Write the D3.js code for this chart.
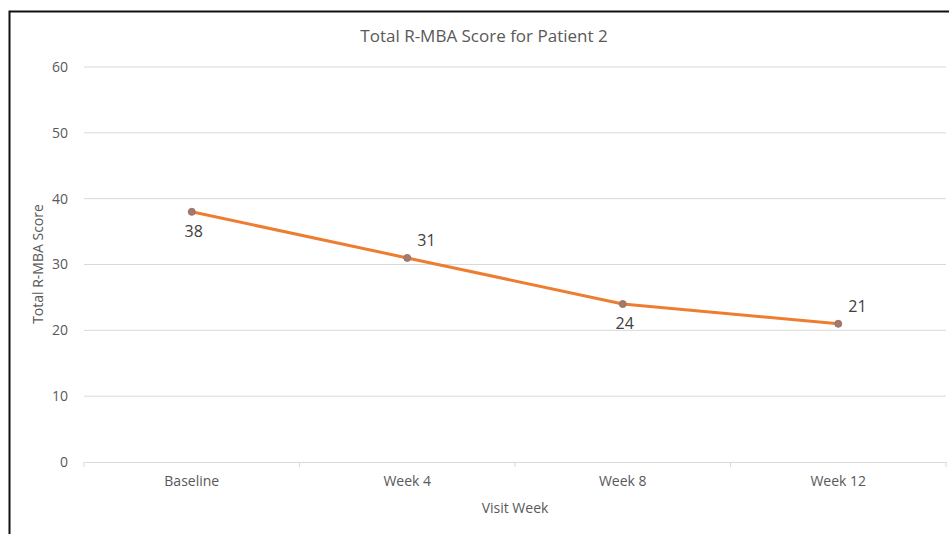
<!DOCTYPE html>
<html>
<head>
<meta charset="utf-8">
<script src="https://cdn.jsdelivr.net/npm/d3@7"></script>
<style>
  body { margin: 0; background: #fff; }
  svg { display: block; }
  svg text { font-family: "Open Sans", sans-serif; }
</style>
</head>
<body>
<div id="chart"></div>
<script>
// chart data
const visits = ["Baseline", "Week 4", "Week 8", "Week 12"];
const scores = [38, 31, 24, 21];
const yTicks = [0, 10, 20, 30, 40, 50, 60];
// label above (-1) or below (1) the point
const labelSide = [1, -1, 1, -1];

const W = 949, H = 534;
const margin = {top: 67, right: 3, bottom: 72, left: 84};

const svg = d3.select("#chart")
    .append("svg")
    .attr("width", W)
    .attr("height", H);

// frame of the screenshot
svg.append("path")
    .attr("d", `M9.5,${H} V11.5 H${W}`)
    .attr("fill", "none")
    .attr("stroke", "#111")
    .attr("stroke-width", 2);

const x = d3.scaleBand()
    .domain(visits)
    .range([margin.left, W - margin.right]);

const y = d3.scaleLinear()
    .domain([0, 60])
    .range([H - margin.bottom, margin.top]);

// gridlines
svg.append("g")
    .selectAll("line")
    .data(yTicks.filter(d => d > 0))
    .enter()
    .append("line")
    .attr("x1", margin.left)
    .attr("x2", W - margin.right)
    .attr("y1", d => y(d))
    .attr("y2", d => y(d))
    .attr("stroke", "#d9d9d9")
    .attr("stroke-width", 1);

// y axis (labels only)
const yAxis = svg.append("g")
    .attr("transform", `translate(${margin.left},0)`)
    .call(d3.axisLeft(y).tickValues(yTicks).tickSize(0).tickPadding(16));
yAxis.attr("font-family", null).attr("font-size", null);
yAxis.select(".domain").remove();
yAxis.selectAll("text")
    .attr("fill", "#595959")
    .style("font-size", "14px");

// x axis with ticks at band edges
const xAxis = svg.append("g")
    .attr("transform", `translate(0,${y(0)})`)
    .call(d3.axisBottom(x).tickSize(0).tickPadding(14));
xAxis.attr("font-family", null).attr("font-size", null);
xAxis.select(".domain")
    .attr("stroke", "#d9d9d9");
xAxis.selectAll("text")
    .attr("fill", "#595959")
    .style("font-size", "14px");
svg.append("g")
    .selectAll("line")
    .data(visits.concat(["end"]))
    .enter()
    .append("line")
    .attr("x1", (d, i) => i < visits.length ? x(d) : x.range()[1])
    .attr("x2", (d, i) => i < visits.length ? x(d) : x.range()[1])
    .attr("y1", y(0))
    .attr("y2", y(0) + 5)
    .attr("stroke", "#d9d9d9");

// line
const line = d3.line()
    .x((d, i) => x(visits[i]) + x.bandwidth() / 2)
    .y(d => y(d));

svg.append("path")
    .datum(scores)
    .attr("d", line)
    .attr("fill", "none")
    .attr("stroke", "#ed7d31")
    .attr("stroke-width", 3)
    .attr("stroke-linejoin", "round");

// markers
svg.append("g")
    .selectAll("circle")
    .data(scores)
    .enter()
    .append("circle")
    .attr("cx", (d, i) => x(visits[i]) + x.bandwidth() / 2)
    .attr("cy", d => y(d))
    .attr("r", 3.5)
    .attr("fill", "#a5786b")
    .attr("stroke", "#9c7367")
    .attr("stroke-width", 1);

// data labels
svg.append("g")
    .selectAll("text")
    .data(scores)
    .enter()
    .append("text")
    .attr("x", (d, i) => x(visits[i]) + x.bandwidth() / 2 + (labelSide[i] < 0 ? 10 : 2))
    .attr("y", (d, i) => y(d) + (labelSide[i] > 0 ? 25 : -12))
    .attr("text-anchor", (d, i) => labelSide[i] > 0 ? "middle" : "start")
    .attr("fill", "#404040")
    .style("font-size", "16px")
    .text(d => d);

// title
svg.append("text")
    .attr("x", 484)
    .attr("y", 42)
    .attr("text-anchor", "middle")
    .attr("fill", "#595959")
    .style("font-size", "17px")
    .text("Total R-MBA Score for Patient 2");

// axis titles
svg.append("text")
    .attr("x", 515)
    .attr("y", 513)
    .attr("text-anchor", "middle")
    .attr("fill", "#595959")
    .style("font-size", "14px")
    .text("Visit Week");

svg.append("text")
    .attr("transform", "translate(43,264) rotate(-90)")
    .attr("text-anchor", "middle")
    .attr("fill", "#595959")
    .style("font-size", "14px")
    .text("Total R-MBA Score");
</script>
</body>
</html>
